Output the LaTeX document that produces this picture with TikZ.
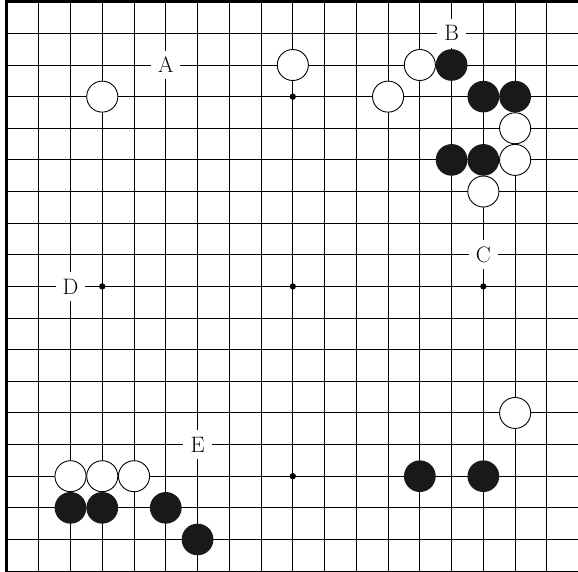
\documentclass[tikz,border=0pt]{standalone}
\usepackage{fontspec}
\begin{document}
\begin{tikzpicture}[x=1cm,y=0.996cm,
    whitestone/.style={draw=black, fill=white, line width=0.8pt},
    blackstone/.style={fill=black!90},
    boardlabel/.style={fill=white, inner sep=0pt, minimum size=0.9cm, font=\fontsize{20}{21}\selectfont}]
    \useasboundingbox (0.78,-0.945) rectangle (18.98,-19.02);
    % grid and board edges
    \foreach \i in {1,...,19} {
        \draw[line width=0.8pt] (\i,-1) -- (\i,-19.1);
        \draw[line width=0.8pt] (1,-\i) -- (19.1,-\i);
    }
    \draw[line width=2.7pt] (1,-19.1) -- (1,-1) -- (19.1,-1);
    % star points
    \foreach \c in {4,10,16}
        \foreach \r in {4,10,16}
            \fill (\c,-\r) circle (0.1);
    % stones
    \foreach \c/\r in {4/4,10/3,13/4,14/3,17/5,17/6,16/7,17/14,3/16,4/16,5/16}
        \filldraw[whitestone] (\c,-\r) circle (0.49);
    \foreach \c/\r in {15/3,16/4,17/4,15/6,16/6,14/16,16/16,3/17,4/17,6/17,7/18}
        \fill[blackstone] (\c,-\r) circle (0.5);
    % letters
    \foreach \l/\c/\r in {A/6/3,B/15/2,C/16/9,D/3/10,E/7/15}
        \node[boardlabel] (\l) at (\c,-\r) {\l};
\end{tikzpicture}
\end{document}
